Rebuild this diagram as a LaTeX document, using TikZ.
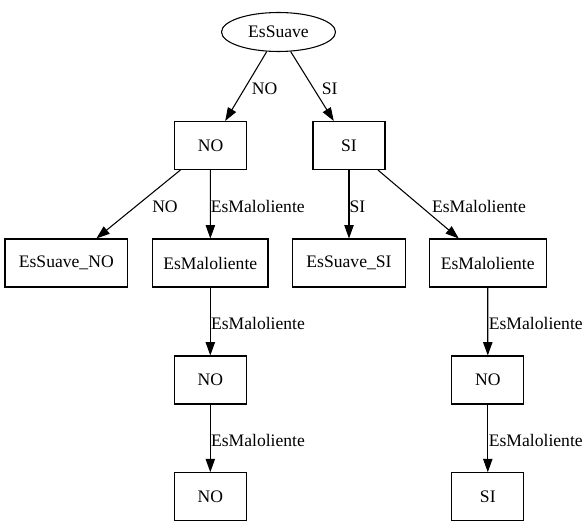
\documentclass[tikz,border=0pt]{standalone}
\usepackage{fontspec}
\setmainfont{Liberation Serif}
\newfontfamily\tnr{Liberation Serif}
\usetikzlibrary{arrows.meta,shapes.geometric}
\begin{document}
\begin{tikzpicture}[x=0.75pt,y=-0.75pt,
  every node/.style={font=\tnr\fontsize{13.2}{15}\selectfont},
  box/.style={draw,line width=0.8pt,rectangle,minimum height=36pt,inner sep=0pt},
  oval/.style={draw,line width=0.8pt,ellipse,minimum width=85.5pt,minimum height=29.25pt,inner sep=0pt},
  lbl/.style={inner sep=0pt},
  edge/.style={line width=0.8pt,-{Triangle[length=10pt,width=7pt]}}]
\useasboundingbox (0,0) rectangle (588,527);
\node[oval] (root) at (278.5,32) {EsSuave};
\node[box,minimum width=54pt] (n1) at (210.5,145.5) {NO};
\node[box,minimum width=54pt] (s1) at (349,145.5) {SI};
\node[box,minimum width=92pt] (esNO) at (66.3,263) {EsSuave\_NO};
\node[box,minimum width=86.5pt] (em1) at (210.3,263) {EsMaloliente};
\node[box,minimum width=84.5pt] (esSI) at (349,263) {EsSuave\_SI};
\node[box,minimum width=87.5pt] (em2) at (487.7,263) {EsMaloliente};
\node[box,minimum width=54pt] (n3) at (210.3,380) {NO};
\node[box,minimum width=54pt] (n4) at (487.8,380) {NO};
\node[box,minimum width=54pt] (n5) at (210.3,496.7) {NO};
\node[box,minimum width=54pt] (s5) at (487.8,496.7) {SI};
\draw[edge] (root) -- (n1);
\draw[edge] (root) -- (s1);
\draw[edge] (n1) -- (esNO);
\draw[edge] (n1) -- (em1);
\draw[edge] (s1) -- (esSI);
\draw[edge] (s1) -- (em2);
\draw[edge] (em1) -- (n3);
\draw[edge] (em2) -- (n4);
\draw[edge] (n3) -- (n5);
\draw[edge] (n4) -- (s5);
\node[lbl] (l1) at (264.7,89) {NO};
\node[lbl] (l2) at (329.7,89) {SI};
\node[lbl] (l3) at (165,206.7) {NO};
\node[lbl] (l4) at (257.8,206.7) {EsMaloliente};
\node[lbl] (l5) at (357.5,206.7) {SI};
\node[lbl] (l6) at (479,206.7) {EsMaloliente};
\node[lbl] (l7) at (258,323.3) {EsMaloliente};
\node[lbl] (l8) at (535.8,323.3) {EsMaloliente};
\node[lbl] (l9) at (258,440.7) {EsMaloliente};
\node[lbl] (l10) at (535.8,440.7) {EsMaloliente};
\end{tikzpicture}
\end{document}
